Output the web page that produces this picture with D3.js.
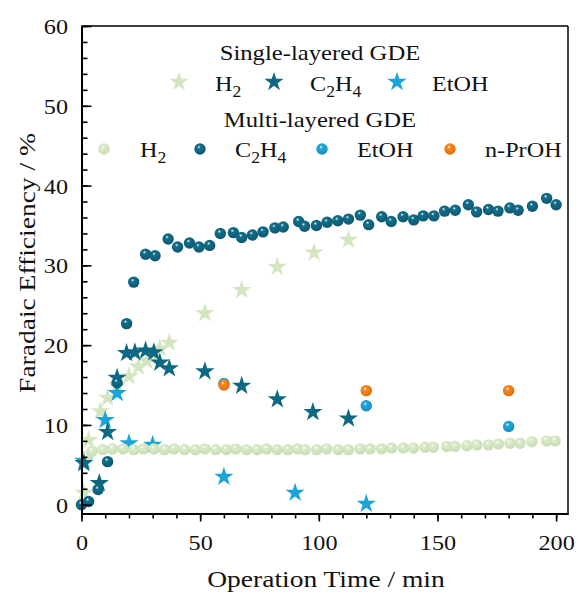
<!DOCTYPE html>
<html>
<head>
<meta charset="utf-8">
<script src="https://cdn.jsdelivr.net/npm/d3@7"></script>
<style>
  body { margin: 0; background: #fff; }
</style>
</head>
<body>
<div id="chart"></div>
<script>
// single-layered GDE (stars)
var sH2Time = [1, 3, 8, 11, 15, 20, 24, 27.5, 30, 33, 37, 52, 67.5, 82.5, 98, 112.5];
var sH2 = [1.5, 8.1, 11.7, 13.4, 15, 16.1, 17.3, 18, 18.5, 19.6, 20.3, 24.0, 26.9, 29.8, 31.6, 33.2];
var sC2H4Time = [1, 7.5, 11, 15, 19, 22.5, 27, 30.5, 33, 37, 52, 67.5, 82.5, 97.5, 112.5];
var sC2H4 = [5.2, 2.7, 9.1, 15.9, 19.0, 19.1, 19.3, 19.1, 17.8, 17.1, 16.7, 14.9, 13.2, 11.6, 10.8];
var sEtOHTime = [1, 10, 15, 20, 30, 60, 90, 120];
var sEtOH = [5.5, 10.6, 14.0, 7.7, 7.5, 3.5, 1.5, 0.1];

// multi-layered GDE (spheres)
var mC2H4Time = [0, 3, 7, 11, 15, 19, 22, 27, 31, 36.5, 40.5, 45.5, 49.5, 54, 58.5, 64, 67.5, 72, 76.5, 81.5, 85, 91.5, 94, 99, 103.5, 108, 112.5, 117.5, 121, 126.5, 130.5, 135.5, 140, 144, 148.5, 153, 157.5, 163, 166.5, 171.5, 175.5, 180.5, 184, 190, 196, 200];
var mC2H4 = [0, 0.4, 1.9, 5.4, 15.3, 22.7, 27.9, 31.4, 31.2, 33.3, 32.3, 32.8, 32.3, 32.5, 34.0, 34.1, 33.5, 33.8, 34.2, 34.7, 34.8, 35.5, 34.9, 35.0, 35.4, 35.6, 35.8, 36.3, 35.1, 36.1, 35.5, 36.1, 35.7, 36.2, 36.2, 36.8, 36.9, 37.6, 36.7, 37.0, 36.8, 37.2, 36.9, 37.4, 38.4, 37.6];
var mH2Time = [2, 4.5, 9, 13, 17.5, 22, 26, 30.5, 35, 39, 43.5, 48, 52, 56.5, 61, 65, 69.5, 74, 78, 82.5, 87, 91, 94.2, 99.1, 103.3, 108.2, 112.5, 117.4, 121.6, 126.5, 130.7, 135.6, 139.9, 144.8, 148.3, 153.9, 157.4, 162.4, 166.6, 171.5, 175.7, 180.6, 184.8, 189.8, 196, 199.6];
var mH2 = [6.0, 6.7, 6.9, 7.0, 7.0, 6.9, 7.0, 7.0, 6.9, 7.0, 6.9, 6.9, 7.0, 6.9, 6.9, 7.0, 6.9, 6.9, 7.0, 6.9, 6.9, 7.0, 6.9, 6.9, 7.0, 6.9, 6.9, 7.0, 7.0, 7.0, 7.1, 7.1, 7.1, 7.2, 7.2, 7.3, 7.3, 7.4, 7.5, 7.5, 7.6, 7.7, 7.7, 7.9, 8.0, 8.0];
var mEtOHTime = [60, 120, 180];
var mEtOH = [15.2, 12.4, 9.8];
var mPrOHTime = [60, 120, 180];
var mPrOH = [15.0, 14.3, 14.3];

var xTicks = [0, 50, 100, 150, 200];
var yTicks = [0, 10, 20, 30, 40, 50, 60];

var cLight = "#d3e6c0", cDark = "#0d6983", cBlue = "#1aa5d8";
var serif = "'Liberation Serif', 'Times New Roman', serif";

var margin = {top: 26, right: 10, bottom: 78.5, left: 81.5},
    width = 578 - margin.left - margin.right,
    height = 592 - margin.top - margin.bottom;

var x = d3.scaleLinear().domain([0, 205]).range([0, width]);
var y = d3.scaleLinear().domain([-1.1, 60]).range([height, 0]);

var svg = d3.select("#chart").append("svg")
    .attr("width", 578).attr("height", 592)
    .style("font-family", serif);

// the original font is a bit wider than Liberation Serif
function stretch(sel, k) {
  sel.each(function() {
    var w = this.getComputedTextLength();
    d3.select(this).attr("textLength", w * k).attr("lengthAdjust", "spacingAndGlyphs");
  });
}

// sphere gradients
var defs = svg.append("defs");
function sphere(id, base, dark) {
  var gr = defs.append("radialGradient").attr("id", id)
      .attr("cx", "45%").attr("cy", "40%").attr("r", "65%")
      .attr("fx", "40%").attr("fy", "32%");
  gr.append("stop").attr("offset", "0%").attr("stop-color", "#ffffff");
  gr.append("stop").attr("offset", "22%").attr("stop-color", base);
  gr.append("stop").attr("offset", "100%").attr("stop-color", dark);
}
sphere("gLight", "#dcebcb", "#c5dbb0");
sphere("gDark", "#136f8a", "#0a5670");
sphere("gBlue", "#22abdd", "#1488bd");
sphere("gOrange", "#f78a20", "#e06a08");

var g = svg.append("g").attr("transform", "translate(" + margin.left + "," + margin.top + ")");

var star = d3.symbol().type(d3.symbolStar).size(115);

function drawStars(tt, vv, color) {
  g.append("g").selectAll("path")
      .data(d3.zip(tt, vv))
    .enter().append("path")
      .attr("d", star)
      .attr("transform", function(d) { return "translate(" + x(d[0]) + "," + y(d[1]) + ")"; })
      .style("fill", color);
}
function drawBalls(tt, vv, grad) {
  g.append("g").selectAll("circle")
      .data(d3.zip(tt, vv))
    .enter().append("circle")
      .attr("cx", function(d) { return x(d[0]); })
      .attr("cy", function(d) { return y(d[1]); })
      .attr("r", 5.7)
      .style("fill", "url(#" + grad + ")");
}

drawStars(sH2Time, sH2, cLight);
drawStars(sEtOHTime, sEtOH, cBlue);
drawBalls(mH2Time, mH2, "gLight");
drawStars(sC2H4Time, sC2H4, cDark);
drawBalls(mC2H4Time, mC2H4, "gDark");
drawBalls(mEtOHTime, mEtOH, "gBlue");
drawBalls(mPrOHTime, mPrOH, "gOrange");

// frame
g.append("line").attr("x1", 0).attr("x2", width).attr("y1", 0).attr("y2", 0)
  .style("stroke", "#000").style("stroke-width", 1.5);
g.append("line").attr("x1", width).attr("x2", width).attr("y1", 0).attr("y2", height)
  .style("stroke", "#000").style("stroke-width", 1.5);

// axes
g.append("g").attr("transform", "translate(0," + height + ")")
  .call(d3.axisBottom(x).tickValues(d3.range(0, 201, 10)).tickSize(5).tickSizeOuter(0).tickFormat(""));
var xAxis = g.append("g").attr("transform", "translate(0," + height + ")")
  .call(d3.axisBottom(x).tickValues(xTicks).tickSize(8).tickSizeOuter(0).tickPadding(13));
g.append("g")
  .call(d3.axisLeft(y).tickValues(d3.range(0, 61, 2)).tickSize(-6).tickSizeOuter(0).tickFormat(""));
var yAxis = g.append("g")
  .call(d3.axisLeft(y).tickValues(yTicks).tickSize(-10).tickSizeOuter(0).tickPadding(13.5));

g.selectAll("g").attr("font-family", null);
g.selectAll(".domain").style("stroke", "#000").style("stroke-width", 2);
g.selectAll(".tick line").style("stroke", "#000").style("stroke-width", 1.6);
g.selectAll(".tick text").style("font-family", serif).style("font-size", "22px").style("fill", "#111");
yAxis.selectAll("text").attr("dy", "0.34em");
stretch(g.selectAll(".tick text"), 1.1);

// axis titles
var xt = svg.append("text")
  .attr("x", 326).attr("y", 587)
  .attr("text-anchor", "middle")
  .style("font-size", "23.5px").style("fill", "#111")
  .text("Operation Time / min");
var yt = svg.append("text")
  .attr("transform", "translate(35," + 263 + ")rotate(-90)")
  .attr("text-anchor", "middle")
  .style("font-size", "23.5px").style("fill", "#111")
  .text("Faradaic Efficiency / %");
stretch(xt, 1.17);
stretch(yt, 1.17);

// legend
var leg = svg.append("g").style("font-size", "22px").style("fill", "#111");
function label(px, py, parts) {
  var t = leg.append("text").attr("x", px).attr("y", py);
  parts.forEach(function(p) {
    if (p[1]) t.append("tspan").attr("dy", 6).style("font-size", "16px").text(p[0]);
    else t.append("tspan").attr("dy", p[2] ? -6 : 0).text(p[0]);
  });
  return t;
}
var t1 = leg.append("text").attr("x", 320).attr("y", 60).attr("text-anchor", "middle").text("Single-layered GDE");
var t2 = leg.append("text").attr("x", 320).attr("y", 126.5).attr("text-anchor", "middle").text("Multi-layered GDE");
stretch(t1, 1.12);
stretch(t2, 1.12);

var starLegend = [[179, cLight], [274, cDark], [397, cBlue]];
starLegend.forEach(function(s) {
  leg.append("path").attr("d", star).attr("transform", "translate(" + s[0] + ",82)").style("fill", s[1]);
});
var labs = [];
labs.push(label(215, 90.5, [["H"], ["2", 1]]));
labs.push(label(310, 90.5, [["C"], ["2", 1], ["H", 0, 1], ["4", 1]]));
labs.push(label(432, 90.5, [["EtOH"]]));

var ballLegend = [[104, "gLight"], [200, "gDark"], [322, "gBlue"], [450, "gOrange"]];
ballLegend.forEach(function(b) {
  leg.append("circle").attr("cx", b[0]).attr("cy", 149).attr("r", 5.7).style("fill", "url(#" + b[1] + ")");
});
labs.push(label(140, 157, [["H"], ["2", 1]]));
labs.push(label(235, 157, [["C"], ["2", 1], ["H", 0, 1], ["4", 1]]));
labs.push(label(357, 157, [["EtOH"]]));
labs.push(label(485, 157, [["n-PrOH"]]));
labs.forEach(function(t) { stretch(t, 1.1); });
</script>
</body>
</html>
